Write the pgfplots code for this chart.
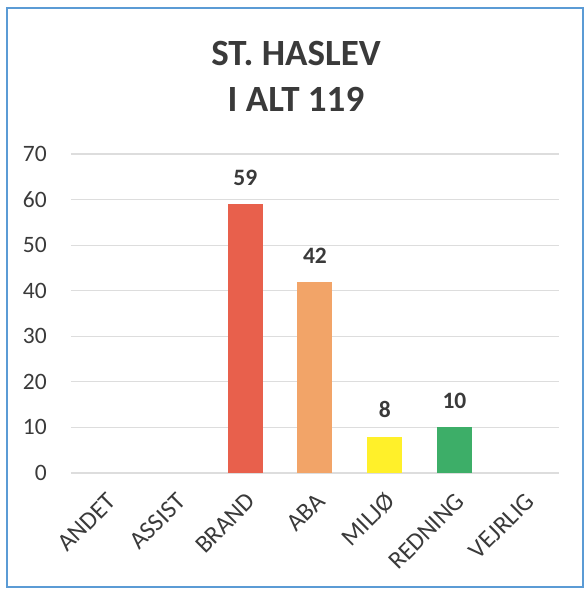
\documentclass[border=0pt]{standalone}
\usepackage{fontspec}
\setmainfont{Carlito}
\usepackage{pgfplots}
\pgfplotsset{compat=1.18}
\definecolor{txt}{HTML}{3A3A3A}
\definecolor{frame}{HTML}{5B9BD5}
\definecolor{gridc}{HTML}{DDDDDD}
\definecolor{cbrand}{HTML}{E8604C}
\definecolor{caba}{HTML}{F2A468}
\definecolor{cmiljo}{HTML}{FFF02A}
\definecolor{credning}{HTML}{3DAE68}
\newcommand{\lbl}{\fontsize{23.5}{27}\selectfont}
\newcommand{\xlbl}{\fontsize{25}{29}\selectfont}
\begin{document}
\begin{tikzpicture}[x=1pt,y=1pt]
\path[use as bounding box] (0,0) rectangle (585,590);
\draw[frame, line width=2pt] (7,3) rectangle (583,582);
\node[anchor=base, font=\bfseries\fontsize{37}{40}\selectfont, text=txt, inner sep=0pt] at (296,524) {ST. HASLEV};
\node[anchor=base, font=\bfseries\fontsize{37}{40}\selectfont, text=txt, inner sep=0pt] at (296,478) {I ALT 119};
\begin{axis}[
  at={(71pt,117pt)}, anchor=south west,
  scale only axis, width=488pt, height=319pt,
  xmin=-0.5, xmax=6.5, ymin=0, ymax=70,
  ytick={0,10,...,70},
  xtick={0,1,2,3,4,5,6},
  xticklabels={ANDET,ASSIST,BRAND,ABA,MILJØ,REDNING,VEJRLIG},
  ybar, bar width=35pt,
  axis line style={draw=none}, tick style={draw=none},
  ymajorgrids, grid style={gridc, line width=1.2pt},
  /pgf/number format/assume math mode=true,
  ticklabel style={text=txt},
  yticklabel style={font=\lbl, anchor=east, inner sep=0pt, xshift=-24pt},
  xticklabel style={font=\xlbl, inner sep=0pt, anchor=east, xshift=6pt, yshift=-20pt, rotate=45},
  nodes near coords,
  every node near coord/.append style={font=\bfseries\lbl, text=txt, yshift=15pt},
]
\addplot[fill=cbrand, draw=none, bar shift=0pt] coordinates {(2,59)};
\addplot[fill=caba, draw=none, bar shift=0pt] coordinates {(3,42)};
\addplot[fill=cmiljo, draw=none, bar shift=0pt] coordinates {(4,8)};
\addplot[fill=credning, draw=none, bar shift=0pt] coordinates {(5,10)};
\end{axis}
\end{tikzpicture}
\end{document}
